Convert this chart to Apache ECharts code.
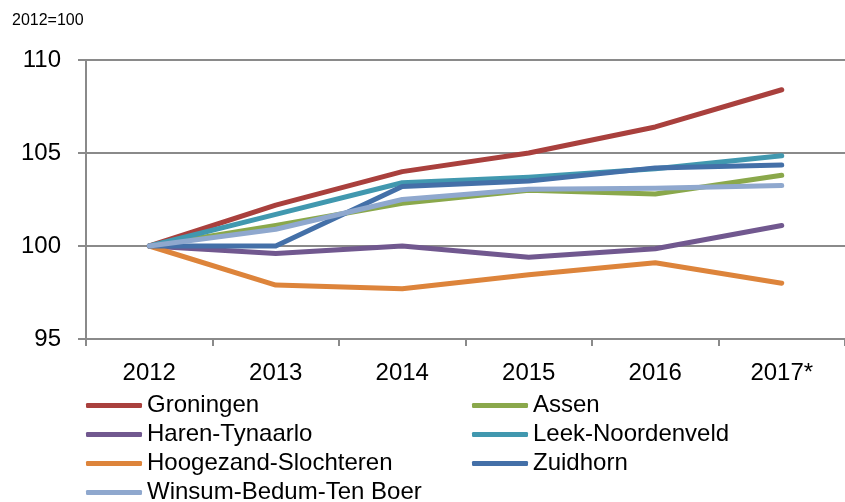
<!DOCTYPE html>
<html>
<head>
<meta charset="utf-8">
<script src="https://cdn.jsdelivr.net/npm/echarts@6/dist/echarts.min.js"></script>
<style>
html,body{margin:0;padding:0;background:#fff;}
#chart{width:845px;height:502px;}
</style>
</head>
<body>
<div id="chart"></div>
<script>
const categories = ['2012', '2013', '2014', '2015', '2016', '2017*'];
const groningen = [100, 102.2, 104.0, 105.0, 106.4, 108.4];
const assen = [100, 101.1, 102.3, 103.0, 102.8, 103.8];
const haren = [100, 99.6, 100.0, 99.4, 99.85, 101.1];
const leek = [100, 101.7, 103.4, 103.7, 104.15, 104.85];
const hoogezand = [100, 97.9, 97.7, 98.45, 99.1, 98.0];
const zuidhorn = [100, 100.0, 103.2, 103.5, 104.2, 104.35];
const winsum = [100, 100.9, 102.5, 103.05, 103.1, 103.25];
const unitLabel = '2012=100';

const FONT = '"Liberation Sans", Arial, sans-serif';
const seriesDefs = [
  ['Groningen', groningen, '#A9403D'],
  ['Assen', assen, '#8AA84B'],
  ['Haren-Tynaarlo', haren, '#71588F'],
  ['Leek-Noordenveld', leek, '#4198AF'],
  ['Hoogezand-Slochteren', hoogezand, '#DD843B'],
  ['Zuidhorn', zuidhorn, '#4470A8'],
  ['Winsum-Bedum-Ten Boer', winsum, '#8FA8CE']
];
// legend layout: [name, column, row]
const legendSlots = [
  ['Groningen', 0, 0], ['Assen', 1, 0],
  ['Haren-Tynaarlo', 0, 1], ['Leek-Noordenveld', 1, 1],
  ['Hoogezand-Slochteren', 0, 2], ['Zuidhorn', 1, 2],
  ['Winsum-Bedum-Ten Boer', 0, 3]
];
const colLeft = [86, 472];
const rowCenter = [405.5, 434.5, 463.5, 492.5];

const chart = echarts.init(document.getElementById('chart'), null, {renderer: 'canvas'});
const legends = legendSlots.map(([name, c, r]) => ({
  orient: 'horizontal',
  icon: 'roundRect',
  itemWidth: 56,
  itemHeight: 5,
  padding: 0,
  left: colLeft[c],
  top: rowCenter[r] - 12,
  data: [name],
  textStyle: {fontFamily: FONT, fontSize: 24, color: '#000', padding: [0,0,0,0]}
}));
chart.setOption({
  animation: false,
  title: {
    text: unitLabel, left: 12, top: 13, padding: 0,
    textStyle: {fontFamily: FONT, fontSize: 16, fontWeight: 'normal', color: '#000'}
  },
  legend: legends,
  grid: {left: 86, right: -5, top: 60, bottom: 163, containLabel: false},
  xAxis: {
    type: 'category',
    data: categories,
    boundaryGap: true,
    axisLine: {show: true, lineStyle: {color: '#8a8a8a', width: 2}},
    axisTick: {show: true, length: 7, lineStyle: {color: '#8a8a8a', width: 2}},
    axisLabel: {fontFamily: FONT, fontSize: 24, color: '#000', margin: 22},
    splitLine: {show: false}
  },
  yAxis: {
    type: 'value',
    min: 95, max: 110, interval: 5,
    axisLine: {show: true, lineStyle: {color: '#8a8a8a', width: 2}},
    axisTick: {show: true, length: 8, lineStyle: {color: '#8a8a8a', width: 2}},
    axisLabel: {fontFamily: FONT, fontSize: 24, color: '#000', margin: 25},
    splitLine: {show: true, lineStyle: {color: '#8a8a8a', width: 2}}
  },
  series: seriesDefs.map(([name, data, color]) => ({
    name: name,
    type: 'line',
    data: data,
    symbol: 'none',
    showSymbol: false,
    smooth: false,
    itemStyle: {color: color},
    lineStyle: {color: color, width: 5, cap: 'round', join: 'round'},
    emphasis: {disabled: true}
  }))
});
</script>
</body>
</html>
